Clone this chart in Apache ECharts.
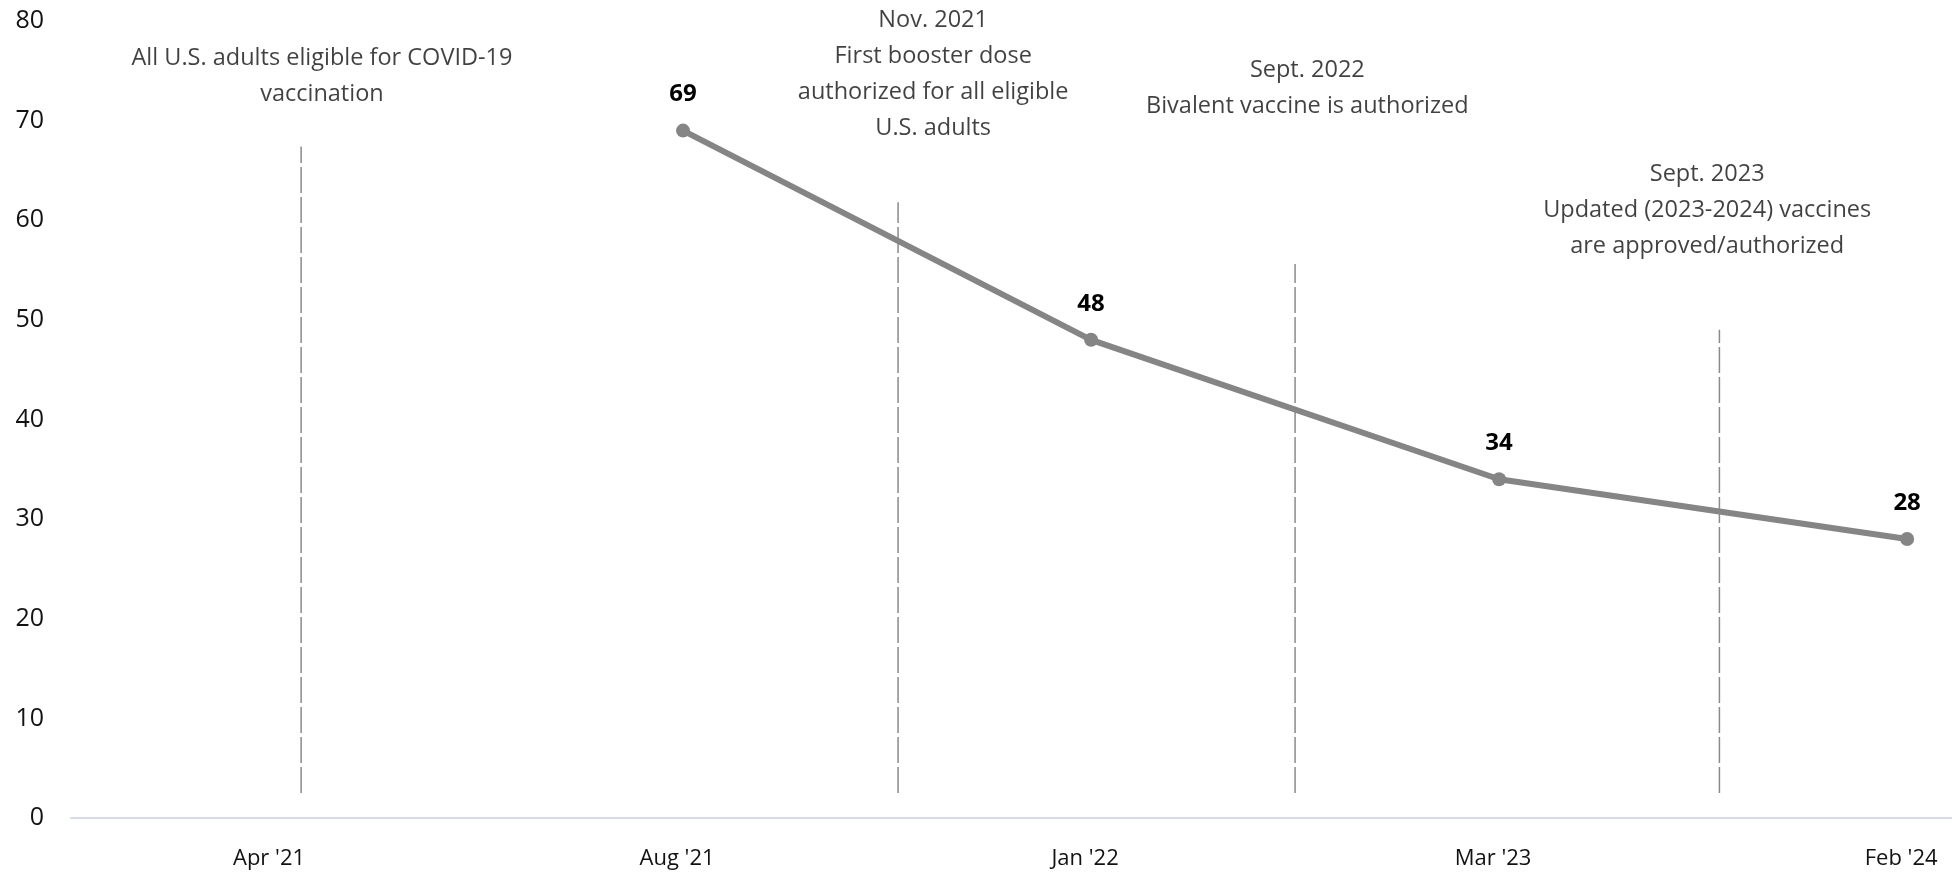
<!DOCTYPE html>
<html>
<head>
<meta charset="utf-8">
<script src="https://cdn.jsdelivr.net/npm/echarts@6/dist/echarts.min.js"></script>
<style>
  html, body { margin: 0; padding: 0; background: #fff; }
  #chart { width: 1952px; height: 874px; }
</style>
</head>
<body>
<div id="chart"></div>
<script>
// Survey periods and share of adults (%)
const categories = ["Apr '21", "Aug '21", "Jan '22", "Mar '23", "Feb '24"];
const values = [null, 69, 48, 34, 28];
const yTicks = { min: 0, max: 80, interval: 10 };

// Vaccine milestones: position on the period scale (index units), line top (%), text
const eventX = [0.064, 1.527, 2.5, 3.54];
const eventTop = [67.4, 61.8, 55.6, 49];
const eventBottom = 2.5;
const eventText = [
  "All U.S. adults eligible for COVID-19\nvaccination",
  "Nov. 2021\nFirst booster dose\nauthorized for all eligible\nU.S. adults",
  "Sept. 2022\nBivalent vaccine is authorized",
  "Sept. 2023\nUpdated (2023-2024) vaccines\nare approved/authorized"
];
const eventTextX = [0.115, 1.613, 2.53, 3.51];
const eventTextY = [74.4, 74.6, 73.2, 61];

// Period scale: half a period of room on the left, the plot runs to the right border
const xRange = { min: -0.5, max: 4.11, step: 0.5 };

const FONT = "'Open Sans', 'Liberation Sans', sans-serif";
const INK = '#121212';

const chart = echarts.init(document.getElementById('chart'), null, { renderer: 'canvas' });

const eventLines = eventX.map((x, i) => ({
  type: 'line',
  symbol: 'none',
  silent: true,
  data: [[x, eventBottom], [x, eventTop[i]]],
  lineStyle: { color: '#8a8a8a', width: 1.5, type: [26, 4] },
  z: 1
}));

const eventLabels = {
  type: 'scatter',
  symbolSize: 0,
  silent: true,
  data: eventTextX.map((x, i) => ({ value: [x, eventTextY[i]], text: eventText[i] })),
  label: {
    show: true,
    position: 'inside',
    formatter: p => p.data.text,
    fontFamily: FONT,
    fontSize: 23.5,
    lineHeight: 36,
    color: INK,
    align: 'center',
    verticalAlign: 'middle'
  }
};

const seriesData = values
  .map((v, i) => (v == null ? null : [i, v]))
  .filter(d => d !== null);

chart.setOption({
  animation: false,
  backgroundColor: '#ffffff',
  textStyle: { fontFamily: FONT },
  grid: { left: 71, right: 0, top: 21, bottom: 56, containLabel: false },
  xAxis: {
    type: 'value',
    min: xRange.min,
    max: xRange.max,
    interval: xRange.step,
    axisLine: { show: true, lineStyle: { color: '#d3dbef', width: 2 } },
    axisTick: { show: false },
    splitLine: { show: false },
    axisLabel: {
      color: INK,
      fontSize: 22,
      margin: 30,
      fontFamily: FONT,
      padding: [0, 12, 0, 0],
      showMinLabel: true,
      showMaxLabel: false,
      formatter: v => (Number.isInteger(v) && categories[v] !== undefined ? categories[v] : '')
    }
  },
  yAxis: {
    type: 'value',
    min: yTicks.min,
    max: yTicks.max,
    interval: yTicks.interval,
    axisLine: { show: false },
    axisTick: { show: false },
    splitLine: { show: false },
    axisLabel: { color: INK, fontSize: 25, margin: 27, fontFamily: FONT }
  },
  series: [
    ...eventLines,
    eventLabels,
    {
      type: 'line',
      data: seriesData,
      symbol: 'circle',
      symbolSize: 14,
      showSymbol: true,
      lineStyle: { color: '#858585', width: 6 },
      itemStyle: { color: '#858585' },
      label: {
        show: true,
        position: 'top',
        distance: 17,
        fontFamily: FONT,
        fontSize: 24,
        fontWeight: 'bold',
        color: '#000',
        formatter: p => p.value[1]
      },
      z: 3
    }
  ]
});
</script>
</body>
</html>
